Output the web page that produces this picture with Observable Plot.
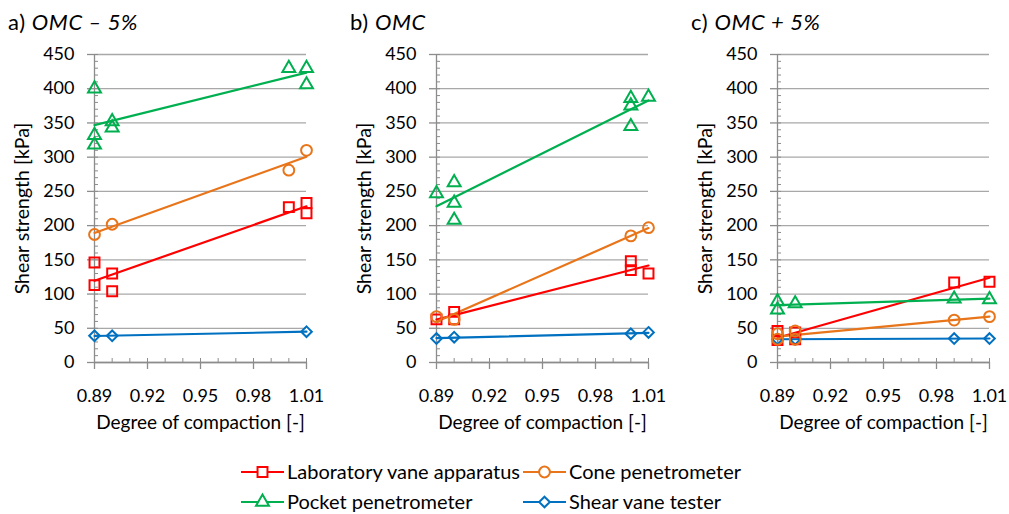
<!DOCTYPE html>
<html><head><meta charset="utf-8">
<script src="https://cdn.jsdelivr.net/npm/d3@7"></script>
<script src="https://cdn.jsdelivr.net/npm/@observablehq/plot@0.6"></script>
<style>
body{margin:0;background:#fff;font-family:Lato,sans-serif;}
#root{position:relative;width:1009px;height:514px;overflow:hidden;background:#fff;}
.title{position:absolute;top:9px;font-size:22px;line-height:26px;color:#000;white-space:nowrap;letter-spacing:0.6px;}
.title i{font-style:italic;}
.panel{position:absolute;top:40px;}
.legend{position:absolute;left:0;top:440px;}
</style></head><body><div id="root"></div>
<script>
// ---- labels ----
const seriesNames = ["Laboratory vane apparatus", "Cone penetrometer", "Pocket penetrometer", "Shear vane tester"];
const seriesColors = ["#ff0000", "#e8751a", "#00b050", "#0070c0"];
const seriesSymbols = ["square", "circle", "triangle", "diamond2"];
const panelLetters = ["a)", "b)", "c)"];
const panelNames = ["OMC – 5%", "OMC", "OMC + 5%"];
const xTickLabels = [0.89, 0.92, 0.95, 0.98, 1.01];
const yTickLabels = [0, 50, 100, 150, 200, 250, 300, 350, 400, 450];
const xLabel = "Degree of compaction [-]";
const yLabel = "Shear strength [kPa]";

// ---- data: [degree of compaction, shear strength kPa] ----
// a) OMC – 5%
const labVaneA = [[0.89,146],[0.89,113],[0.90,130],[0.90,104],[1.00,227],[1.01,233],[1.01,218]];
const coneA    = [[0.89,187],[0.90,202],[1.00,281],[1.01,310]];
const pocketA  = [[0.89,400],[0.89,332],[0.89,318],[0.90,352],[0.90,343],[1.00,430],[1.01,430],[1.01,406]];
const shearA   = [[0.89,39],[0.90,39],[1.01,45]];
// b) OMC
const labVaneB = [[0.89,63],[0.90,74],[0.90,63],[1.00,148],[1.00,135],[1.01,130]];
const coneB    = [[0.89,67],[0.90,63],[1.00,185],[1.01,197]];
const pocketB  = [[0.89,247],[0.90,263],[0.90,233],[0.90,208],[1.00,386],[1.00,375],[1.00,345],[1.01,388]];
const shearB   = [[0.89,35],[0.90,37],[1.00,42],[1.01,44]];
// c) OMC + 5%
const labVaneC = [[0.89,46],[0.89,33],[0.90,44],[0.90,34],[0.99,117],[1.01,118]];
const coneC    = [[0.89,42],[0.89,34],[0.90,46],[0.90,34],[0.99,62],[1.01,67]];
const pocketC  = [[0.89,89],[0.89,77],[0.90,86],[0.99,93],[1.01,92]];
const shearC   = [[0.89,34],[0.90,34],[0.99,35],[1.01,35]];

const panels = [
  [labVaneA, coneA, pocketA, shearA],
  [labVaneB, coneB, pocketB, shearB],
  [labVaneC, coneC, pocketC, shearC]
];
const panelLefts = [0, 342, 683];

const symR = {square: 5.6, circle: 5.4, triangle: 4.8, diamond2: 4.8};
const axisGray = "#8c8c8c";
const gridGray = "#a8a8a8";
const xDomain = [0.89, 1.01];
const yDomain = [0, 450];
const minorX = d3.range(13).map(i => +(xDomain[0] + i * 0.01).toFixed(2));
const minorY = d3.range(0, 451, 10);

const root = document.getElementById("root");

function makePanel(sets) {
  const marks = [
    Plot.gridY(yTickLabels, {stroke: gridGray, strokeOpacity: 1, strokeWidth: 1.3}),
    Plot.ruleX([xDomain[0]], {y1: yDomain[0], y2: yDomain[1], stroke: axisGray, strokeWidth: 1.3}),
    Plot.ruleY([0], {stroke: axisGray, strokeWidth: 1.3}),
    Plot.axisY(yTickLabels, {tickSize: 7, tickPadding: 13, stroke: axisGray, fill: "#000", strokeWidth: 1.3, fontSize: 18,
      label: null}),
    Plot.axisY({ticks: [], label: yLabel, labelAnchor: "center", labelArrow: "none", labelOffset: 79, fill: "#000", fontSize: 19.5, tickSize: 0}),
    Plot.axisY(minorY, {tickSize: 4, dx: 4, text: null, label: null, stroke: axisGray}),
    Plot.axisX(xTickLabels, {tickSize: 7, tickPadding: 20, tickFormat: d3.format(".2f"), stroke: axisGray, fill: "#000", strokeWidth: 1.3, fontSize: 18,
      label: null}),
    Plot.axisX({ticks: [], label: xLabel, labelAnchor: "center", labelArrow: "none", labelOffset: 66, dx: 8, fill: "#000", fontSize: 19, tickSize: 0}),
    Plot.axisX(minorX, {tickSize: 4, dy: -4, text: null, label: null, stroke: axisGray})
  ];
  const order = [3, 0, 1, 2];
  sets.forEach((set, i) => {
    marks.push(Plot.linearRegressionY(set, {x: d => d[0], y: d => d[1], stroke: seriesColors[i], strokeWidth: 2.2, ci: 0}));
  });
  order.forEach(i => {
    marks.push(Plot.dot(sets[i], {x: d => d[0], y: d => d[1], symbol: seriesSymbols[i], r: symR[seriesSymbols[i]],
      stroke: seriesColors[i], strokeWidth: 2, fill: "none"}));
  });
  return Plot.plot({
    width: 326, height: 392,
    marginLeft: 94, marginRight: 20, marginTop: 14, marginBottom: 70,
    x: {domain: xDomain},
    y: {domain: yDomain},
    style: {fontFamily: "Lato, sans-serif", fontSize: "18px", color: "#000", background: "transparent", overflow: "visible"},
    marks
  });
}

panels.forEach((sets, p) => {
  const t = document.createElement("div");
  t.className = "title";
  t.style.left = (panelLefts[p] + 8) + "px";
  t.innerHTML = panelLetters[p] + " <i></i>";
  t.querySelector("i").textContent = panelNames[p];
  root.appendChild(t);
  const wrap = document.createElement("div");
  wrap.className = "panel";
  wrap.style.left = panelLefts[p] + "px";
  wrap.appendChild(makePanel(sets));
  root.appendChild(wrap);
});

// legend
const legend = d3.select(root).append("svg").attr("class", "legend")
  .attr("width", 1009).attr("height", 74)
  .style("font-family", "Lato, sans-serif").style("font-size", "20px");
const legendPos = [[241, 32], [523, 32], [241, 62], [523, 62]];
seriesNames.forEach((name, i) => {
  const [lx, ly] = legendPos[i];
  const g = legend.append("g").attr("transform", `translate(${lx},${ly})`);
  g.append("line").attr("x1", 0).attr("x2", 43).attr("y1", 0).attr("y2", 0)
    .attr("stroke", seriesColors[i]).attr("stroke-width", 2.2);
  const sym = {square: d3.symbolSquare, circle: d3.symbolCircle, triangle: d3.symbolTriangle, diamond2: d3.symbolDiamond2}[seriesSymbols[i]];
  const r = symR[seriesSymbols[i]];
  g.append("path").attr("transform", "translate(21.5,0)")
    .attr("d", d3.symbol(sym, Math.PI * r * r)())
    .attr("fill", "#fff").attr("stroke", seriesColors[i]).attr("stroke-width", 2);
  g.append("text").attr("x", 46).attr("y", 0).attr("dy", "0.35em").attr("fill", "#000").text(name);
});
</script>
</body></html>
